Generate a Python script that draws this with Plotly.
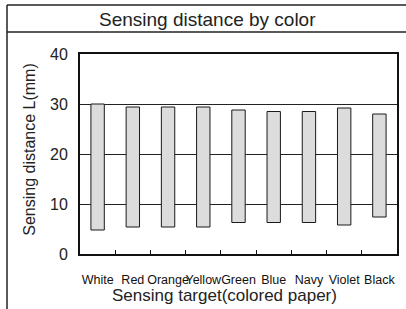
import plotly.graph_objects as go

categories = ["White", "Red", "Orange", "Yellow", "Green", "Blue", "Navy", "Violet", "Black"]
top_mm = [30.0, 29.4, 29.4, 29.4, 28.8, 28.5, 28.5, 29.2, 28.0]
bottom_mm = [4.8, 5.4, 5.4, 5.4, 6.3, 6.3, 6.3, 5.8, 7.4]
y_ticks = [0, 10, 20, 30, 40]

W, H = 406, 309
L, R, T, B = 80, 9, 54, 54.5
pw, ph = W - L - R, H - T - B

def px(x):
    return (x - L) / pw

def py(y):
    return (H - B - y) / ph

fig = go.Figure()
fig.add_trace(go.Bar(
    x=categories,
    y=[t - b for t, b in zip(top_mm, bottom_mm)],
    base=bottom_mm,
    width=0.38,
    marker=dict(color="#dcdcdc", line=dict(color="#1a1a1a", width=1)),
    hoverinfo="skip",
))

font_main = "Liberation Sans, Arial, sans-serif"
font_narrow = "Liberation Sans Narrow, Arial Narrow, Liberation Sans, sans-serif"

fig.update_layout(
    width=W, height=H,
    margin=dict(l=L, r=R, t=T, b=B, pad=0, autoexpand=False),
    paper_bgcolor="white", plot_bgcolor="white",
    showlegend=False,
    xaxis=dict(
        type="category", showgrid=False, zeroline=False, automargin=False,
        showline=True, linecolor="#111", linewidth=2, mirror=True,
        ticks="inside", tickson="boundaries", ticklen=4, tickcolor="#111", tickwidth=1,
        tickangle=0,
        tickfont=dict(family=font_narrow, size=12.5, color="#111"),
        ticklabelstandoff=13,
    ),
    yaxis=dict(
        range=[0, 40], tickvals=y_ticks, showgrid=True, gridcolor="#222", gridwidth=1,
        zeroline=False, showline=True, linecolor="#111", linewidth=2, mirror=True,
        automargin=False,
        ticks="", tickfont=dict(family=font_main, size=16, color="#222"),
        ticklabelstandoff=7,
    ),
    annotations=[
        dict(text="Sensing distance by color", x=px(207), y=py(19), xref="paper", yref="paper",
             showarrow=False, xanchor="center", yanchor="middle",
             font=dict(family=font_main, size=19, color="#222")),
        dict(text="Sensing distance L(mm)", x=px(30), y=py(150), xref="paper", yref="paper",
             showarrow=False, xanchor="center", yanchor="middle", textangle=-90,
             font=dict(family=font_main, size=16, color="#222")),
        dict(text="Sensing target(colored paper)", x=px(224), y=py(296), xref="paper", yref="paper",
             showarrow=False, xanchor="center", yanchor="middle",
             font=dict(family=font_main, size=17, color="#222")),
    ],
    shapes=[
        dict(type="line", xref="paper", yref="paper", x0=px(7), x1=px(7), y0=py(5), y1=py(H + 2),
             line=dict(color="#222", width=1.5)),
        dict(type="line", xref="paper", yref="paper", x0=px(7), x1=px(W + 2), y0=py(5), y1=py(5),
             line=dict(color="#222", width=1.5)),
        dict(type="line", xref="paper", yref="paper", x0=px(7), x1=px(W + 2), y0=py(32), y1=py(32),
             line=dict(color="#222", width=1.5)),
    ],
)

fig.write_html("out.html", config={"displayModeBar": False, "staticPlot": True},
               post_script="document.body.style.margin='0';document.body.style.overflow='hidden';")
